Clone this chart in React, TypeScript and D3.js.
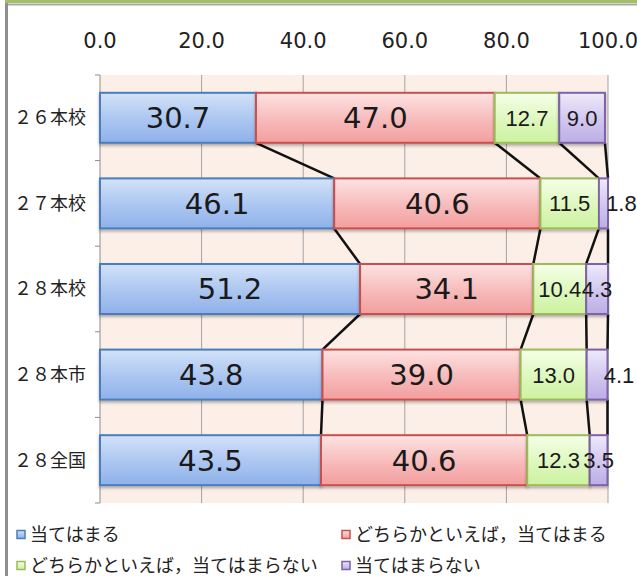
import React from "react";
import * as d3 from "d3";

// Survey response shares (%) by group
const categories = ["２６本校", "２７本校", "２８本校", "２８本市", "２８全国"];
const seriesNames = [
  "当てはまる",
  "どちらかといえば，当てはまる",
  "どちらかといえば，当てはまらない",
  "当てはまらない",
];
const agree = [30.7, 46.1, 51.2, 43.8, 43.5];
const somewhatAgree = [47.0, 40.6, 34.1, 39.0, 40.6];
const somewhatDisagree = [12.7, 11.5, 10.4, 13.0, 12.3];
const disagree = [9.0, 1.8, 4.3, 4.1, 3.5];
const tickValues = [0, 20, 40, 60, 80, 100];

const seriesValues = [agree, somewhatAgree, somewhatDisagree, disagree];

const W = 637;
const H = 576;

const palette = [
  { stroke: "#4a7ebb", top: "#d3e2f8", bottom: "#8fb1ea" },
  { stroke: "#c9504d", top: "#fde3e3", bottom: "#f39e9e" },
  { stroke: "#9bbb59", top: "#f6ffe8", bottom: "#cdf2a0" },
  { stroke: "#7d62a8", top: "#efeafa", bottom: "#bcaee6" },
];

// Manual label nudges (px) for thin end segments whose labels sit outside
const labelNudge: Record<string, number> = { "1-3": 18, "3-3": 22 };

export default function App() {
  const x = d3.scaleLinear().domain([0, 100]).range([100, 608]);
  const y = d3
    .scaleBand<string>()
    .domain(categories)
    .range([75, 503])
    .paddingInner(0.416)
    .paddingOuter(0.208);
  const bw = y.bandwidth();
  const step = y.step();

  const rows = categories.map((c, i) => {
    const obj: Record<string, number | string> = { cat: c };
    seriesValues.forEach((s, k) => (obj["s" + k] = s[i]));
    return obj;
  });
  const stacked = d3
    .stack<Record<string, number | string>>()
    .keys(seriesValues.map((_, k) => "s" + k))(rows as any);

  // connector lines between consecutive bars at each cumulative boundary
  const connectors: { x1: number; y1: number; x2: number; y2: number }[] = [];
  stacked.forEach((layer) => {
    for (let i = 0; i < categories.length - 1; i++) {
      connectors.push({
        x1: x(layer[i][1]),
        y1: (y(categories[i]) as number) + bw,
        x2: x(layer[i + 1][1]),
        y2: y(categories[i + 1]) as number,
      });
    }
  });

  const legend = [
    { k: 0, x: 17, y: 535 },
    { k: 1, x: 342, y: 535 },
    { k: 2, x: 17, y: 566 },
    { k: 3, x: 342, y: 566 },
  ];

  return (
    <svg
      width={W}
      height={H}
      style={{ position: "absolute", left: 0, top: 0, background: "#fff" }}
    >
      <defs>
        {palette.map((p, k) => (
          <linearGradient key={k} id={"g" + k} x1="0" y1="0" x2="0" y2="1">
            <stop offset="0" stopColor={p.top} />
            <stop offset="0.55" stopColor={d3.interpolateRgb(p.top, p.bottom)(0.6)} />
            <stop offset="1" stopColor={p.bottom} />
          </linearGradient>
        ))}
        <filter id="shadow" x="-5%" y="-20%" width="110%" height="160%">
          <feDropShadow dx="0" dy="2" stdDeviation="1.4" floodColor="#000" floodOpacity="0.3" />
        </filter>
      </defs>

      {/* outer frame */}
      <rect x={5} y={0} width={W - 5} height={3} fill="#a2c065" />
      <rect x={5} y={3.5} width={W - 5} height={2} fill="#a9a9a9" />
      <rect x={5} y={3} width={3} height={H - 3} fill="#8f8f8f" />

      {/* plot background */}
      <rect x={x(0)} y={75} width={x(100) - x(0)} height={428} fill="#fcefe8" />

      {/* gridlines */}
      {tickValues.slice(1).map((t) => (
        <line key={t} x1={x(t)} x2={x(t)} y1={75} y2={503} stroke="#a3a3a3" strokeWidth={1} />
      ))}

      {/* category axis */}
      <line x1={x(0)} x2={x(0)} y1={75} y2={503} stroke="#8c8c8c" strokeWidth={1} />
      {d3.range(categories.length + 1).map((i) => (
        <line
          key={i}
          x1={95}
          x2={x(0)}
          y1={75 + i * step}
          y2={75 + i * step}
          stroke="#8c8c8c"
          strokeWidth={1}
        />
      ))}

      {/* top value labels */}
      {tickValues.map((t) => (
        <text
          key={t}
          x={x(t)}
          y={48}
          textAnchor="middle"
          fontFamily="DejaVu Sans"
          fontSize={21}
          fill="#222"
        >
          {t.toFixed(1)}
        </text>
      ))}

      {/* category labels */}
      {categories.map((c) => (
        <text
          key={c}
          x={86}
          y={(y(c) as number) + bw / 2}
          dy="0.36em"
          textAnchor="end"
          fontFamily="'Noto Sans CJK JP'"
          fontSize={18}
          fill="#222"
        >
          {c}
        </text>
      ))}

      {/* connectors */}
      {connectors.map((l, i) => (
        <line key={i} {...l} stroke="#111" strokeWidth={2.5} />
      ))}

      {/* bars */}
      {stacked.map((layer, k) =>
        layer.map((d, i) => (
          <rect
            key={k + "-" + i}
            x={x(d[0])}
            y={y(categories[i]) as number}
            width={x(d[1]) - x(d[0])}
            height={bw}
            fill={`url(#g${k})`}
            stroke={palette[k].stroke}
            strokeWidth={2}
            filter="url(#shadow)"
          />
        ))
      )}

      {/* value labels */}
      {stacked.map((layer, k) =>
        layer.map((d, i) => {
          const big = k < 2;
          const cx = (x(d[0]) + x(d[1])) / 2 + (labelNudge[i + "-" + k] || 0);
          return (
            <text
              key={"t" + k + "-" + i}
              x={cx}
              y={(y(categories[i]) as number) + bw / 2}
              dy="0.36em"
              textAnchor="middle"
              fontFamily={big ? "DejaVu Sans" : "'Liberation Sans'"}
              fontSize={big ? 29 : 22}
              fill="#1a1a1a"
            >
              {seriesValues[k][i].toFixed(1)}
            </text>
          );
        })
      )}

      {/* legend */}
      {legend.map((l) => (
        <g key={l.k}>
          <rect
            x={l.x}
            y={l.y - 4.5}
            width={8}
            height={8}
            fill={`url(#g${l.k})`}
            stroke={palette[l.k].stroke}
            strokeWidth={1.5}
          />
          <text
            x={l.x + 13}
            y={l.y}
            dy="0.36em"
            fontFamily="'Noto Sans CJK JP'"
            fontSize={18}
            fill="#222"
          >
            {seriesNames[l.k]}
          </text>
        </g>
      ))}
    </svg>
  );
}
